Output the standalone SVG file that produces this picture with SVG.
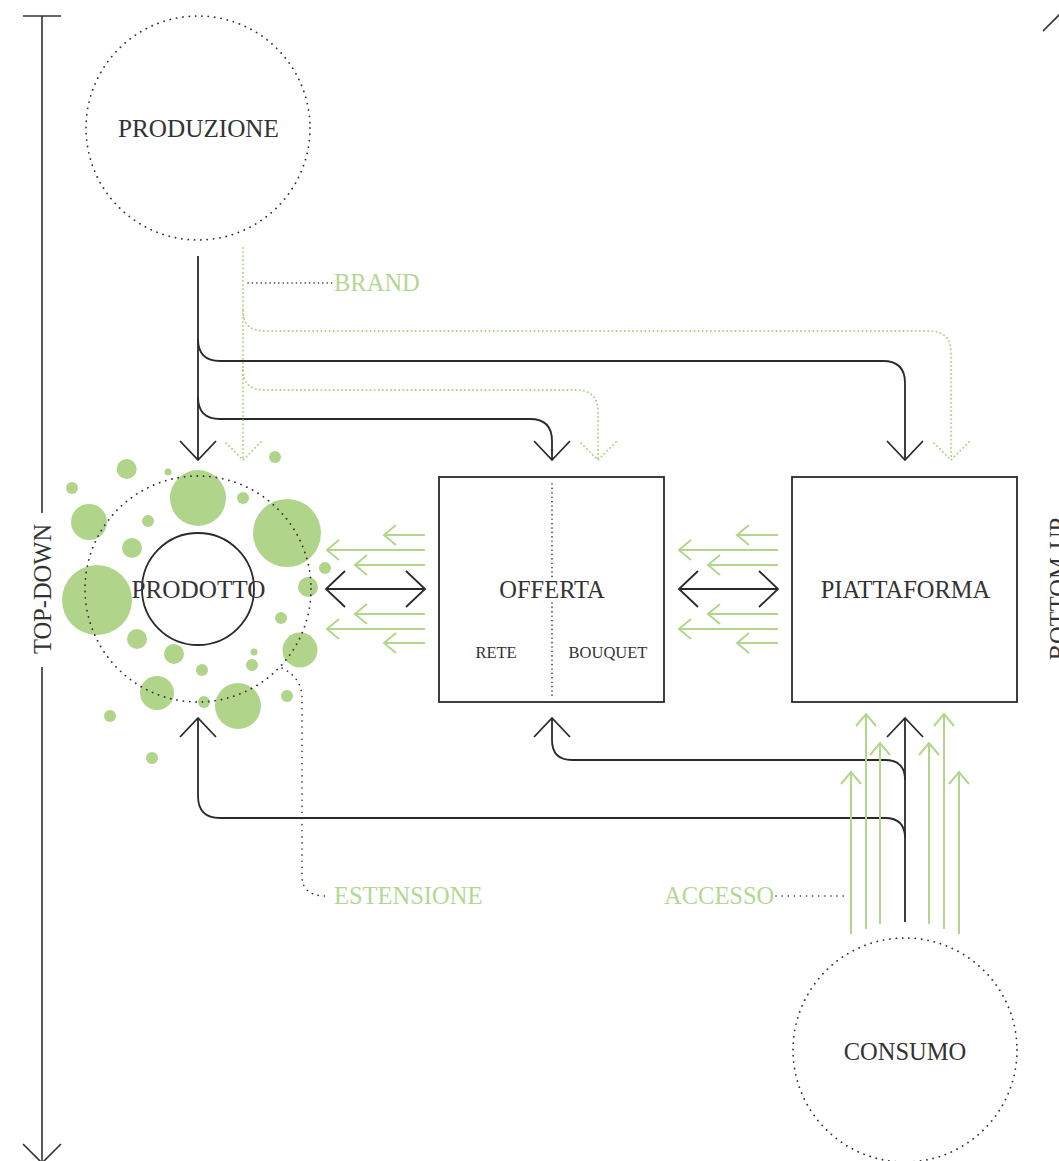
<svg xmlns="http://www.w3.org/2000/svg" width="1059" height="1161" viewBox="0 0 1059 1161">
<defs>
<style>
.t{font-family:"Liberation Serif","Times New Roman",serif;fill:#333;}
.big{font-size:24.5px;}
.big25{font-size:25.2px;}
.sm{font-size:16.5px;}
.gt{font-family:"Liberation Serif","Times New Roman",serif;font-size:24.5px;fill:#b3d792;}
.dotc{fill:none;stroke:#333;stroke-width:1.8;stroke-linecap:round;stroke-dasharray:0.1 6.3;}
.box{fill:none;stroke:#2a2a2a;stroke-width:1.8;}
.k{fill:none;stroke:#2a2a2a;stroke-width:1.8;}
.ax{fill:none;stroke:#333;stroke-width:1.6;}
.gl{fill:none;stroke:#b1d68c;stroke-width:2;}
.gd{fill:none;stroke:#a9d17f;stroke-width:1.9;stroke-linecap:round;stroke-dasharray:0.1 4;}
.kd{fill:none;stroke:#333;stroke-width:1.6;stroke-linecap:round;stroke-dasharray:0.1 4.3;}
.kd6{fill:none;stroke:#333;stroke-width:1.6;stroke-linecap:round;stroke-dasharray:0.1 6;}
.bub{fill:#b0d58a;}
</style>
<marker id="ak" markerUnits="userSpaceOnUse" orient="auto-start-reverse" viewBox="-22 -22 24 44" refX="0" refY="0" markerWidth="24" markerHeight="44">
<path d="M-19,-18 L0,0 L-19,18" class="k"/>
</marker>
<marker id="ax" markerUnits="userSpaceOnUse" orient="auto" viewBox="-22 -22 24 44" refX="0" refY="0" markerWidth="24" markerHeight="44">
<path d="M-19,-19 L0,0 L-19,19" class="ax"/>
</marker>
<marker id="agd" markerUnits="userSpaceOnUse" orient="auto" viewBox="-22 -22 24 44" refX="0" refY="0" markerWidth="24" markerHeight="44">
<path d="M-18,-18 L0,0 L-18,18" class="gd"/>
</marker>
<marker id="ag" markerUnits="userSpaceOnUse" orient="auto" viewBox="-16 -14 18 28" refX="0" refY="0" markerWidth="18" markerHeight="28">
<path d="M-12,-10 L0,0 L-12,10" class="gl"/>
</marker>
</defs>

<g id="axes">
<path class="ax" d="M23,16 L61,16"/>
<path class="ax" d="M42,16 L42,513"/>
<path class="ax" d="M42,667 L42,1163" marker-end="url(#ax)"/>
<text class="t big" text-anchor="middle" transform="translate(51,589) rotate(-90)">TOP-DOWN</text>
<path class="ax" d="M1062,513 L1062,12" marker-end="url(#ax)"/>
<path class="ax" d="M1062,667 L1062,1161"/>
<text class="t big" text-anchor="middle" transform="translate(1067,589) rotate(-90)">BOTTOM-UP</text>
</g>

<g id="produzione">
<circle class="dotc" cx="198" cy="128" r="112"/>
<text class="t big25" x="198.5" y="137" text-anchor="middle">PRODUZIONE</text>
</g>

<g id="prodotto">
<g id="bubbles">
<circle class="bub" cx="126.7" cy="469" r="10"/>
<circle class="bub" cx="72" cy="488" r="6"/>
<circle class="bub" cx="168" cy="472" r="3.5"/>
<circle class="bub" cx="198" cy="498" r="28"/>
<circle class="bub" cx="243" cy="498" r="6"/>
<circle class="bub" cx="275" cy="457" r="6"/>
<circle class="bub" cx="89" cy="522" r="18"/>
<circle class="bub" cx="148" cy="521" r="6"/>
<circle class="bub" cx="287" cy="533" r="34"/>
<circle class="bub" cx="132" cy="548" r="10"/>
<circle class="bub" cx="97" cy="600" r="35"/>
<circle class="bub" cx="325" cy="568" r="6"/>
<circle class="bub" cx="308" cy="587" r="10"/>
<circle class="bub" cx="281" cy="618" r="6"/>
<circle class="bub" cx="137" cy="639" r="10"/>
<circle class="bub" cx="174" cy="654" r="10"/>
<circle class="bub" cx="300" cy="650" r="17.5"/>
<circle class="bub" cx="254" cy="652" r="3.5"/>
<circle class="bub" cx="252" cy="665" r="6"/>
<circle class="bub" cx="202" cy="670" r="6"/>
<circle class="bub" cx="157" cy="693" r="17"/>
<circle class="bub" cx="204" cy="702" r="6"/>
<circle class="bub" cx="238" cy="706" r="23"/>
<circle class="bub" cx="287" cy="696" r="6"/>
<circle class="bub" cx="110" cy="716" r="6"/>
<circle class="bub" cx="152" cy="758" r="6"/>
</g>
<circle class="dotc" cx="198" cy="589" r="113"/>
<circle fill="none" stroke="#2a2a2a" stroke-width="1.8" cx="198" cy="589" r="56"/>
<text class="t big25" x="198.5" y="598" text-anchor="middle">PRODOTTO</text>
</g>

<g id="offerta">
<rect class="box" x="439" y="477" width="225" height="225"/>
<path class="kd" d="M552,484 L552,578 M552,603 L552,697"/>
<text class="t big" x="552" y="598" text-anchor="middle">OFFERTA</text>
<text class="t sm" x="496" y="658" text-anchor="middle">RETE</text>
<text class="t sm" x="608" y="658" text-anchor="middle">BOUQUET</text>
</g>

<g id="piattaforma">
<rect class="box" x="792" y="477" width="225" height="225"/>
<text class="t big" x="905.5" y="598" text-anchor="middle">PIATTAFORMA</text>
</g>

<g id="consumo">
<circle class="dotc" cx="905" cy="1050" r="112"/>
<text class="t big" x="905" y="1060" text-anchor="middle">CONSUMO</text>
</g>

<g id="labels">
<g id="brand">
<path class="kd" d="M248,283 L332,283"/>
<text class="gt" x="334" y="291">BRAND</text>
</g>
<g id="estensione">
<path class="kd6" d="M282,668 Q302,678 302,698 L302,876 Q302,896 326,896"/>
<text class="gt" x="334" y="904">ESTENSIONE</text>
</g>
<g id="accesso">
<path class="kd6" d="M776,896 L848,896"/>
<text class="gt" x="664" y="904">ACCESSO</text>
</g>
</g>

<g id="connectors">
<path class="k" d="M198,256 L198,460" marker-end="url(#ak)"/>
<path class="k" d="M198,339 Q198,361 220,361 L883,361 Q905,361 905,383 L905,460" marker-end="url(#ak)"/>
<path class="k" d="M198,397 Q198,419 220,419 L530,419 Q552,419 552,441 L552,460" marker-end="url(#ak)"/>
<path class="gd" d="M243,248 L243,460" marker-end="url(#agd)"/>
<path class="gd" d="M243,311 Q243,331 265,331 L929,331 Q951,331 951,353 L951,460" marker-end="url(#agd)"/>
<path class="gd" d="M243,370 Q243,390 265,390 L576,390 Q598,390 598,412 L598,460" marker-end="url(#agd)"/>
<path class="k" d="M905,922 L905,718" marker-end="url(#ak)"/>
<path class="k" d="M905,780 Q905,760 885,760 L572,760 Q552,760 552,740 L552,718" marker-end="url(#ak)"/>
<path class="k" d="M905,838 Q905,818 885,818 L220,818 Q198,818 198,796 L198,718" marker-end="url(#ak)"/>
<path class="k" d="M326,589 L425,589" marker-start="url(#ak)" marker-end="url(#ak)"/>
<path class="k" d="M679,589 L778,589" marker-start="url(#ak)" marker-end="url(#ak)"/>
<path class="gl" d="M425,535 L384,535" marker-end="url(#ag)"/>
<path class="gl" d="M425,550 L327,550" marker-end="url(#ag)"/>
<path class="gl" d="M425,565 L355,565" marker-end="url(#ag)"/>
<path class="gl" d="M425,614 L355,614" marker-end="url(#ag)"/>
<path class="gl" d="M425,629 L327,629" marker-end="url(#ag)"/>
<path class="gl" d="M425,643 L384,643" marker-end="url(#ag)"/>
<path class="gl" d="M778,535 L737,535" marker-end="url(#ag)"/>
<path class="gl" d="M778,550 L679,550" marker-end="url(#ag)"/>
<path class="gl" d="M778,565 L708,565" marker-end="url(#ag)"/>
<path class="gl" d="M778,614 L708,614" marker-end="url(#ag)"/>
<path class="gl" d="M778,629 L679,629" marker-end="url(#ag)"/>
<path class="gl" d="M778,643 L737,643" marker-end="url(#ag)"/>
<path class="gl" d="M851,934 L851,772" marker-end="url(#ag)"/>
<path class="gl" d="M866,929 L866,714" marker-end="url(#ag)"/>
<path class="gl" d="M880,924 L880,743" marker-end="url(#ag)"/>
<path class="gl" d="M929,924 L929,743" marker-end="url(#ag)"/>
<path class="gl" d="M944,929 L944,714" marker-end="url(#ag)"/>
<path class="gl" d="M959,934 L959,772" marker-end="url(#ag)"/>
</g>
</svg>
